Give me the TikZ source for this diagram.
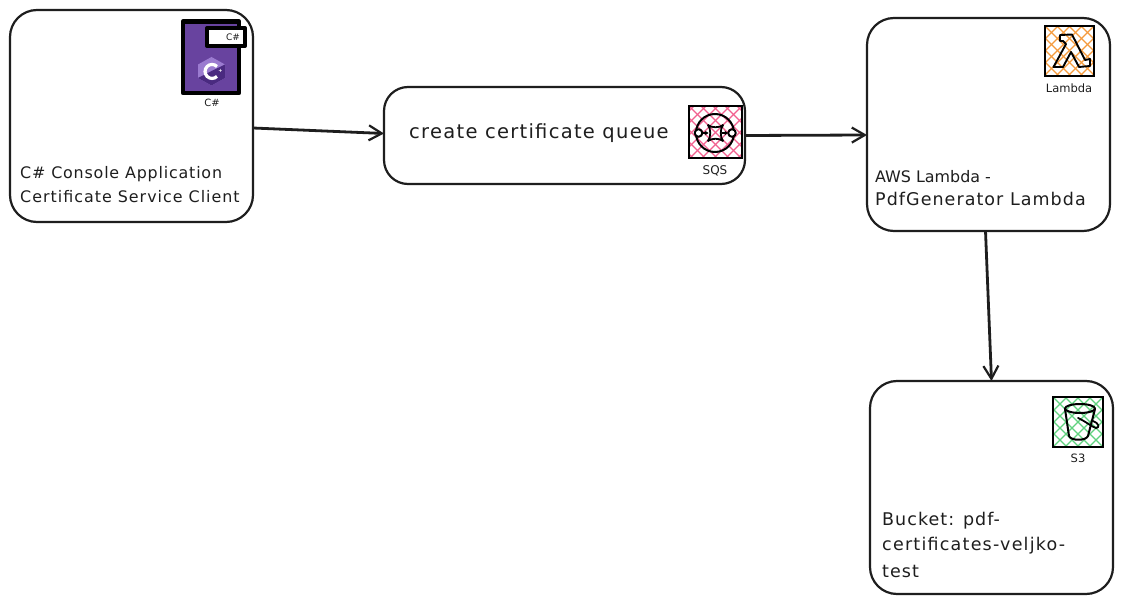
\documentclass[tikz,border=0pt]{standalone}
\usepackage{fontspec}
\setmainfont{DejaVu Sans}
\newcommand{\spaced}[1]{\addfontfeatures{LetterSpace=#1}}
\usetikzlibrary{arrows.meta,calc}
\definecolor{inkc}{HTML}{1E1E1E}
\definecolor{csp}{HTML}{68439F}
\definecolor{csl}{HTML}{9B7BD0}
\definecolor{csd}{HTML}{4A2A80}
\definecolor{pinkh}{HTML}{F2608F}
\definecolor{orangeh}{HTML}{F59A3C}
\definecolor{greenh}{HTML}{5FD27E}
\tikzset{
  card/.style={draw=inkc,line width=2.2pt,rounded corners=27pt,outer sep=0pt,inner sep=0pt,minimum width=#1},
  flow/.style={draw=inkc,line width=2.8pt,-{Straight Barb[length=13pt,width=15pt,line width=2.2pt]}},
  lbl/.style={text=inkc,anchor=west,inner sep=0pt,font=\fontsize{15.9pt}{15.9pt}\selectfont},
  lblbig/.style={lbl,font=\fontsize{17.5pt}{17.5pt}\selectfont},
  tiny/.style={text=inkc,inner sep=0pt,font=\fontsize{10pt}{10pt}\selectfont},
  iconbox/.style={draw=black,line width=2pt},
  glyph/.style={draw=black,line width=2pt,line join=round,line cap=round},
  hatchl/.style={line width=1.2pt}
}
\newcommand{\hatchbox}[5]{% x1 y1 x2 y2 colour
  \begin{scope}
    \clip (#1,#2) rectangle (#3,#4);
    \foreach \k in {-60,-48,...,72}{
      \draw[hatchl,#5] (#1+\k,#2) -- ++(60,60);
      \draw[hatchl,#5] (#3-\k,#2) -- ++(-60,60);
    }
  \end{scope}
  \draw[iconbox] (#1,#2) rectangle (#3,#4);
}
\begin{document}
\begin{tikzpicture}[x=1pt,y=-1pt]
\useasboundingbox (0,0) rectangle (1122,604);
\fill[white] (0,0) rectangle (1122,604);

% cards
\node[card=243pt,minimum height=212pt] (client) at (131.5,116) {};
\node[card=361pt,minimum height=97pt,rounded corners=24pt] (queue) at (564.5,135.5) {};
\node[card=243pt,minimum height=213pt] (lambda) at (988.5,124.5) {};
\node[card=243pt,minimum height=213pt] (bucket) at (991.5,487.5) {};

% connectors
\draw[flow] ([yshift=-12pt]client.east) -- ([yshift=2pt]queue.west);
\draw[flow] (queue.east) -- ([yshift=-10.5pt]lambda.west);
\draw[flow] ([xshift=-3pt]lambda.south) -- (bucket.north);

% card texts
\node[lbl] (t1) at (20,174) {\spaced{5.1}C\# Console Application};
\node[lbl] (t2) at (20,196.5) {\spaced{6.3}Certificate Service Client};
\node[lbl,font=\fontsize{19.5pt}{19.5pt}\selectfont] (t3) at (409,133.5) {\spaced{6.6}create certificate queue};
\node[lbl] (t4) at (875,177) {AWS Lambda -};
\node[lblbig] (t5) at (875,199) {\spaced{6}PdfGenerator Lambda};
\node[lblbig] (t6) at (882,521) {\spaced{6}Bucket: pdf-};
\node[lblbig] (t7) at (882,546) {\spaced{7}certificates-veljko-};
\node[lblbig] (t8) at (882,571) {\spaced{6}test};

% C# icon
\draw[line width=4.5pt,draw=black,fill=csp,line join=round] (183,21.5) rectangle (239,93);
\draw[line width=4pt,draw=black,fill=white,line join=round] (207,28) rectangle (245,46);
\node[tiny,font=\fontsize{9pt}{9pt}\selectfont] (tagcs) at (233,37) {C\#};
\fill[csl] (211.5,57) -- (225,64.5) -- (225,78) -- (211.5,85.5) -- (198,78) -- (198,64.5) -- cycle;
\fill[csd] (225,64.5) -- (225,78) -- (211.5,85.5) -- (198,78) -- (211.5,71) -- cycle;
\draw[white,line width=3.2pt] (217,66.5) arc[start angle=45,end angle=315,radius=7pt];
\node[text=white,inner sep=0pt,font=\bfseries\fontsize{5pt}{5pt}\selectfont] (plus) at (220.5,71) {+};
\node[tiny] (cscap) at (212,103) {C\#};

% SQS icon
\hatchbox{689}{106}{742}{158}{pinkh}
\draw[glyph] (715,133) circle (19pt);
\draw[glyph,fill=white] (698.5,133) circle (3.8pt);
\draw[glyph,fill=white] (732,133) circle (3.8pt);
\draw[glyph,line width=1.8pt] (708,125) .. controls (711,128) and (720,128) .. (723,125)
  .. controls (720,129) and (720,137) .. (723,141)
  .. controls (720,138) and (711,138) .. (708,141)
  .. controls (711,137) and (711,129) .. (708,125) -- cycle;
\draw[glyph,line width=1.6pt,-{Stealth[length=3.5pt,width=4.5pt]}] (702.5,133) -- (708.5,133);
\draw[glyph,line width=1.6pt,-{Stealth[length=3.5pt,width=4.5pt]}] (722,133) -- (728,133);
\node[tiny,font=\fontsize{12pt}{12pt}\selectfont] (sqscap) at (715,170.5) {SQS};

% Lambda icon
\hatchbox{1045}{26}{1094}{76}{orangeh}
\draw[glyph,line width=1.9pt] (1060,35) -- (1072,34.5) -- (1085,60) -- (1090,59) -- (1090,66) -- (1079,67)
  -- (1071,52) -- (1063,67) -- (1053.5,67) -- (1066,44) -- (1063,41) -- (1060,41) -- cycle;
\node[tiny,font=\fontsize{11.5pt}{11.5pt}\selectfont] (lamcap) at (1069,88) {Lambda};

% S3 icon
\hatchbox{1053}{397}{1103}{447}{greenh}
\draw[glyph] (1080,408.5) ellipse (15pt and 4.5pt);
\draw[glyph] (1065,409) -- (1069,436) .. controls (1071,441) and (1086,441) .. (1088,436) -- (1095,409);
\draw[glyph,line width=1.8pt] (1078,418) .. controls (1085,421) and (1092,427) .. (1096,428)
  .. controls (1100,428) and (1099,423) .. (1093,421);
\node[tiny,font=\fontsize{11.5pt}{11.5pt}\selectfont] (s3cap) at (1078,458) {S3};
\end{tikzpicture}
\end{document}
